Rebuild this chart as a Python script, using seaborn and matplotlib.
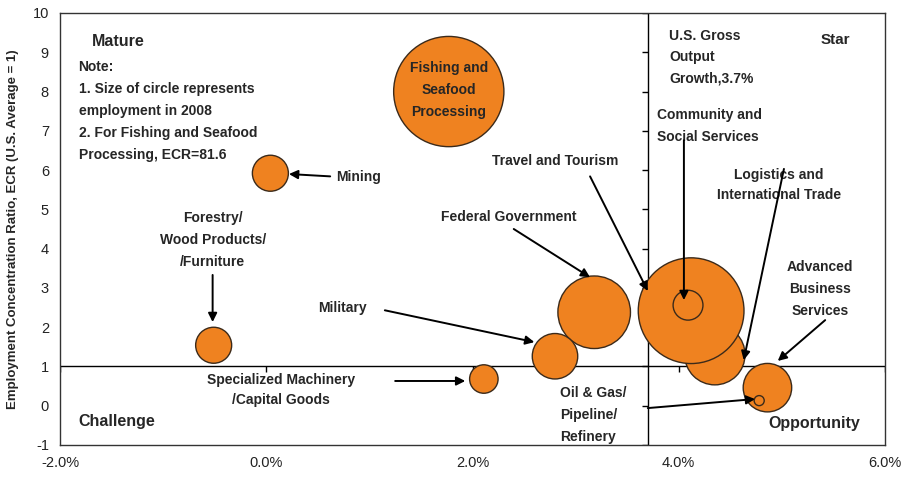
import matplotlib
matplotlib.use("Agg")
import matplotlib.pyplot as plt
from matplotlib import font_manager
import pandas as pd
import seaborn as sns

# Data
industries = ["Fishing and Seafood Processing", "Mining", "Forestry/Wood Products/Furniture",
              "Specialized Machinery/Capital Goods", "Federal Government", "Military",
              "Logistics and International Trade", "Travel and Tourism",
              "Community and Social Services", "Advanced Business Services", "Oil & Gas/Pipeline/Refinery"]
growth = [1.77, 0.04, -0.51, 2.11, 3.18, 2.80, 4.35, 4.12, 4.09, 4.86, 4.78]   # % growth
ecr = [8.0, 5.92, 1.54, 0.68, 2.38, 1.26, 1.30, 2.42, 2.56, 0.46, 0.13]      # fishing plotted at 8 (actual 81.6)
employment = [300, 32, 32, 20, 130, 51, 90, 276, 22, 58, 2.5]                  # relative size of circles
us_growth = 3.7
xticks = [-2, 0, 2, 4, 6]
yticks = list(range(-1, 11))

df = pd.DataFrame({"industry": industries, "growth": growth, "ecr": ecr, "employment": employment})

sns.set_style("white")
avail = {f.name for f in font_manager.fontManager.ttflist}
fam = next(f for f in ["Liberation Sans Narrow", "Liberation Sans", "DejaVu Sans"] if f in avail)
plt.rcParams["font.family"] = [fam, "DejaVu Sans"]
plt.rcParams["font.weight"] = "bold"
plt.rcParams["axes.unicode_minus"] = False

fig = plt.figure(figsize=(9.03, 4.78), dpi=100)
ax = fig.add_axes([60 / 903, 1 - 445 / 478, 825 / 903, 432 / 478])

orange = "#EF8220"
sns.scatterplot(data=df, x="growth", y="ecr", size="employment", sizes=(0, 6300),
                size_norm=(0, 300), color=orange, edgecolor="#3b2a1a", linewidth=1,
                alpha=1, legend=False, ax=ax, zorder=3)

# quadrant lines
ax.axhline(1, color="black", lw=1, zorder=1)
ax.axvline(us_growth, color="black", lw=1, zorder=1)
# tick marks where the axes cross
ax.plot([us_growth] * len(yticks), yticks, ls="none", marker=0, ms=4, color="black", mew=1, zorder=1)
ax.plot(xticks, [1] * len(xticks), ls="none", marker=3, ms=4, color="black", mew=1, zorder=1)

ax.set_xlim(-2, 6)
ax.set_ylim(-1, 10)
ax.set_xticks(xticks)
ax.set_xticklabels([f"{v:.1f}%" for v in xticks])
ax.set_yticks(yticks)
ax.tick_params(length=0, labelsize=10.5, pad=8, colors="#222222")
for lab in ax.get_xticklabels() + ax.get_yticklabels():
    lab.set_fontweight("normal")
ax.set_xlabel("")
ax.set_ylabel("Employment Concentration Ratio, ECR (U.S. Average = 1)", fontsize=9.5,
              fontweight="bold", labelpad=10)
for s in ax.spines.values():
    s.set_color("#333333")
    s.set_linewidth(1)

fs = 10
ls = 1.72
# quadrant names and notes
ax.text(-1.69, 9.28, "Mature", fontsize=11.5, va="center")
ax.text(-1.82, 8.80, "Note:\n1. Size of circle represents\nemployment in 2008\n2. For Fishing and Seafood\nProcessing, ECR=81.6",
        fontsize=fs, va="top", linespacing=ls)
ax.text(-1.82, -0.39, "Challenge", fontsize=11.5, va="center")
ax.text(5.31, -0.44, "Opportunity", fontsize=11.5, va="center", ha="center")
ax.text(5.52, 9.3, "Star", fontsize=11, va="center", ha="center")
ax.text(3.91, 9.58, "U.S. Gross\nOutput\nGrowth,3.7%", fontsize=fs, va="top", linespacing=1.62)

# labels
ax.text(1.77, 8.05, "Fishing and\nSeafood\nProcessing", fontsize=fs, ha="center", va="center",
        linespacing=ls, zorder=5)
ax.text(0.68, 5.82, "Mining", fontsize=fs, va="center")
ax.text(-0.52, 4.22, "Forestry/\nWood Products/\n/Furniture", fontsize=fs, ha="center", va="center", linespacing=ls)
ax.text(0.14, 0.40, "Specialized Machinery\n/Capital Goods", fontsize=fs, ha="center", va="center", linespacing=1.62)
ax.text(0.74, 2.49, "Military", fontsize=fs, ha="center", va="center")
ax.text(2.35, 4.80, "Federal Government", fontsize=fs, ha="center", va="center")
ax.text(2.80, 6.23, "Travel and Tourism", fontsize=fs, ha="center", va="center")
ax.text(3.79, 7.58, "Community and\nSocial Services", fontsize=fs, va="top", linespacing=ls)
ax.text(4.97, 5.62, "Logistics and\nInternational Trade", fontsize=fs, ha="center", va="center", linespacing=1.62)
ax.text(5.37, 2.97, "Advanced\nBusiness\nServices", fontsize=fs, ha="center", va="center", linespacing=ls)
ax.text(2.85, -0.24, "Oil & Gas/\nPipeline/\nRefinery", fontsize=fs, va="center", linespacing=ls)

# arrows: (start, tip)
arrows = [((0.62, 5.84), (0.22, 5.90)),
          ((-0.52, 3.33), (-0.52, 2.13)),
          ((1.25, 0.63), (1.93, 0.63)),
          ((1.15, 2.43), (2.60, 1.62)),
          ((2.40, 4.50), (3.14, 3.27)),
          ((3.14, 5.84), (3.70, 2.92)),
          ((4.05, 6.76), (4.05, 2.69)),
          ((5.02, 6.03), (4.63, 1.16)),
          ((5.42, 2.18), (4.96, 1.14)),
          ((3.70, -0.06), (4.74, 0.17))]
for start, tip in arrows:
    ax.annotate("", xy=tip, xytext=start,
                arrowprops=dict(arrowstyle="-|>", color="black", lw=1.4, mutation_scale=13,
                                shrinkA=0, shrinkB=0), zorder=6)

fig.savefig("out.png", dpi=100)
